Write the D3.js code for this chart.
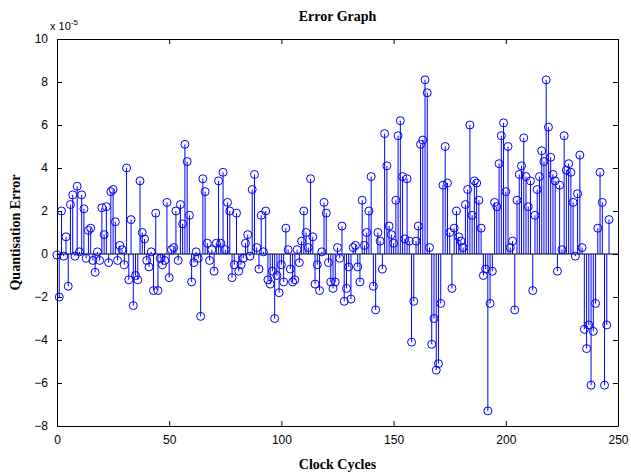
<!DOCTYPE html>
<html>
<head>
<meta charset="utf-8">
<script src="https://cdn.jsdelivr.net/npm/d3@7"></script>
<style>
  body { margin: 0; background: #fff; }
  svg { display: block; }
</style>
</head>
<body>
<div id="chart"></div>
<script>
// quantisation error per clock cycle, in units of 1e-5
const errorValues = [
  -0.05, -2.0, 2.0, -0.1, 0.8, -1.5, 2.3, 2.75, -0.1, 3.15,
  0.1, 2.75, 2.1, -0.2, 1.1, 1.2, -0.3, -0.85, 0.1, -0.3,
  2.15, 0.9, 2.2, -0.4, 2.9, 3.0, 1.5, -0.3, 0.4, 0.2,
  -0.5, 4.0, -1.2, 1.6, -2.4, -1.0, -1.2, 3.4, 1.0, 0.7,
  -0.3, -0.6, 0.1, -1.7, 1.9, -1.7, -0.2, -0.5, -0.3, 2.4,
  -1.1, 0.2, 0.3, 2.0, -0.3, 2.3, 1.4, 5.1, 4.3, 1.8,
  -1.3, -0.4, 0.1, -0.2, -2.9, 3.5, 2.9, 0.5, -0.3, 0.2,
  -0.8, 0.5, 3.4, 0.5, 3.8, 0.2, 2.4, 2.0, -1.1, -0.5,
  1.9, -0.8, -0.5, -0.2, 0.5, 0.9, -0.1, 3.0, 3.7, 0.3,
  -0.7, 1.8, 0.1, 2.0, -1.2, -1.4, -0.8, -3.0, -1.0, -1.8,
  -0.5, -1.3, 1.2, 0.2, -0.7, -1.3, -1.2, 0.2, -0.4, 0.6,
  2.0, 1.0, 0.3, 3.5, 0.8, -1.4, -0.5, -1.7, 0.1, 2.4,
  1.9, -0.4, -1.3, -1.6, -1.3, 0.3, -0.2, 1.3, -2.2, -1.6,
  -0.6, -2.1, 0.3, 0.4, -0.6, -1.3, 2.5, 0.4, 1.0, 2.0,
  3.6, -1.5, -2.6, 1.0, 0.6, -0.7, 5.6, 4.1, 1.3, 0.9,
  0.5, 2.5, 5.5, 6.2, 3.6, 0.7, 3.5, 0.6, -4.1, -2.2,
  0.6, 1.3, 5.1, 5.3, 8.1, 7.5, 0.3, -4.2, -3.0, -5.4,
  -5.1, -2.3, 3.2, 5.0, 3.3, 1.0, -1.6, 1.2, 2.0, 0.8,
  0.6, 0.3, 2.3, 3.0, 6.0, 1.8, 3.4, 3.3, 2.5, 1.2,
  -1.0, -0.7, -7.3, -2.3, -0.8, 2.4, 2.2, 4.2, 5.5, 6.1,
  2.9, 5.0, 0.3, 0.6, -2.6, 2.5, 3.7, 4.1, 5.4, 3.6,
  2.2, 3.4, -1.7, 1.8, 3.0, 3.6, 4.8, 4.3, 8.1, 5.9,
  4.5, 3.7, 3.4, -0.8, 3.2, 0.2, 5.5, 3.9, 4.2, 3.8,
  2.4, -0.1, 2.8, 4.6, 0.3, -3.5, -4.4, -3.3, -6.1, -3.6,
  -2.3, 1.2, 3.8, 2.4, -6.1, -3.3, 1.6
];
const xTicks = [0, 50, 100, 150, 200, 250];
const yTicks = [-8, -6, -4, -2, 0, 2, 4, 6, 8, 10];

const W = 631, H = 475;
const margin = {top: 39, right: 13, bottom: 49, left: 57};

const svg = d3.select('#chart').append('svg')
  .attr('width', W).attr('height', H);

const x = d3.scaleLinear().domain([0, 250]).range([margin.left, W - margin.right]);
const y = d3.scaleLinear().domain([-8, 10]).range([H - margin.bottom, margin.top]);

const tickFont = 'Liberation Sans, Arial, sans-serif';
const serif = 'Liberation Serif, Times New Roman, serif';

// stems
const g = svg.append('g');
g.selectAll('line.stem').data(errorValues).join('line')
  .attr('class', 'stem')
  .attr('x1', (d, i) => x(i)).attr('x2', (d, i) => x(i))
  .attr('y1', y(0)).attr('y2', d => y(d))
  .attr('stroke', '#0000ff').attr('stroke-width', 1);

// baseline
g.append('line')
  .attr('x1', x(0)).attr('x2', x(250))
  .attr('y1', y(0)).attr('y2', y(0))
  .attr('stroke', '#000').attr('stroke-width', 1);

// markers
g.selectAll('circle').data(errorValues).join('circle')
  .attr('cx', (d, i) => x(i)).attr('cy', d => y(d))
  .attr('r', 4)
  .attr('fill', 'none')
  .attr('stroke', '#0000ff').attr('stroke-width', 1);

// axes with inward ticks on all sides
const axB = svg.append('g').attr('transform', `translate(0,${y(-8)})`)
  .call(d3.axisBottom(x).tickValues(xTicks).tickSizeInner(-5).tickSizeOuter(0).tickPadding(9));
const axT = svg.append('g').attr('transform', `translate(0,${y(10)})`)
  .call(d3.axisTop(x).tickValues(xTicks).tickSizeInner(-5).tickSizeOuter(0).tickFormat(''));
const axL = svg.append('g').attr('transform', `translate(${x(0)},0)`)
  .call(d3.axisLeft(y).tickValues(yTicks).tickSizeInner(-5).tickSizeOuter(0).tickPadding(9));
const axR = svg.append('g').attr('transform', `translate(${x(250)},0)`)
  .call(d3.axisRight(y).tickValues(yTicks).tickSizeInner(-5).tickSizeOuter(0).tickFormat(''));

[axB, axT, axL, axR].forEach(a => {
  a.select('.domain').attr('stroke', '#000');
  a.selectAll('.tick line').attr('stroke', '#000');
  a.selectAll('text').attr('font-family', tickFont).attr('font-size', 12).attr('fill', '#000');
});

// exponent label
const ex = svg.append('text')
  .attr('x', 50).attr('y', 30)
  .attr('font-family', tickFont).attr('font-size', 11);
ex.append('tspan').text('x 10');
ex.append('tspan').attr('dy', -5).attr('font-size', 8).text('-5');

// titles
svg.append('text')
  .attr('x', (x(0) + x(250)) / 2).attr('y', 21)
  .attr('text-anchor', 'middle')
  .attr('font-family', serif).attr('font-weight', 'bold').attr('font-size', 14)
  .text('Error Graph');

svg.append('text')
  .attr('x', (x(0) + x(250)) / 2).attr('y', 469)
  .attr('text-anchor', 'middle')
  .attr('font-family', serif).attr('font-weight', 'bold').attr('font-size', 14)
  .text('Clock Cycles');

svg.append('text')
  .attr('transform', `translate(20,${(y(10) + y(-8)) / 2}) rotate(-90)`)
  .attr('text-anchor', 'middle')
  .attr('font-family', serif).attr('font-weight', 'bold').attr('font-size', 14)
  .text('Quantisation Error');
</script>
</body>
</html>
